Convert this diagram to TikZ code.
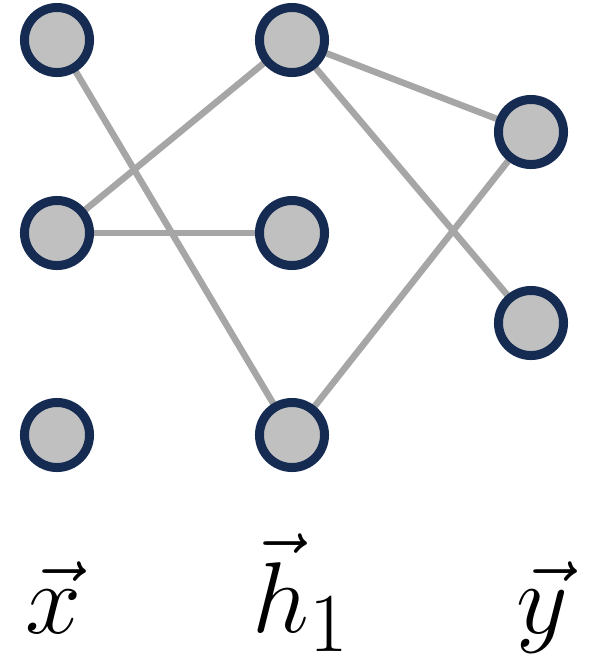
\documentclass[tikz,border=0pt]{standalone}
\usepackage{amsmath}
\usepackage{xcolor}
\usepackage{tikz}
\usetikzlibrary{positioning, backgrounds}
\definecolor{unitnavy}{RGB}{21, 43, 82}
\definecolor{unitgray}{RGB}{192, 192, 192}
\definecolor{wiregray}{RGB}{166, 166, 166}
\tikzstyle{unit} = [circle, draw=unitnavy, fill=unitgray, line width=0.09cm, minimum size=0.65cm, inner sep=0pt]
\tikzstyle{wire} = [draw=wiregray, line width=0.065cm]
\tikzstyle{layerlabel} = [font=\Huge, scale=1.15, anchor=base, inner sep=0pt]

\begin{document}
\begin{tikzpicture}[x=0.01cm, y=-0.01cm]
    \useasboundingbox (0, 0) rectangle (595, 669);

    % Input layer
    \node[unit] (x1) at (57, 40) {};
    \node[unit] (x2) at (57, 233) {};
    \node[unit] (x3) at (57, 435) {};

    % Hidden layer
    \node[unit] (h1) at (292, 40) {};
    \node[unit] (h2) at (292, 233) {};
    \node[unit] (h3) at (292, 435) {};

    % Output layer
    \node[unit] (y1) at (531, 132) {};
    \node[unit] (y2) at (531, 323) {};

    % Connections
    \begin{scope}[on background layer]
        \draw[wire] (x1.center) -- (h3.center);
        \draw[wire] (x2.center) -- (h1.center);
        \draw[wire] (x2.center) -- (h2.center);
        \draw[wire] (h1.center) -- (y1.center);
        \draw[wire] (h1.center) -- (y2.center);
        \draw[wire] (h3.center) -- (y1.center);
    \end{scope}

    % Labels
    \node[layerlabel] (xlabel) at (54, 633) {$\vec{x}$};
    \node[layerlabel] (hlabel) at (301, 632) {$\vec{h}_1$};
    \node[layerlabel] (ylabel) at (542, 633) {$\vec{y}$};
\end{tikzpicture}
\end{document}
